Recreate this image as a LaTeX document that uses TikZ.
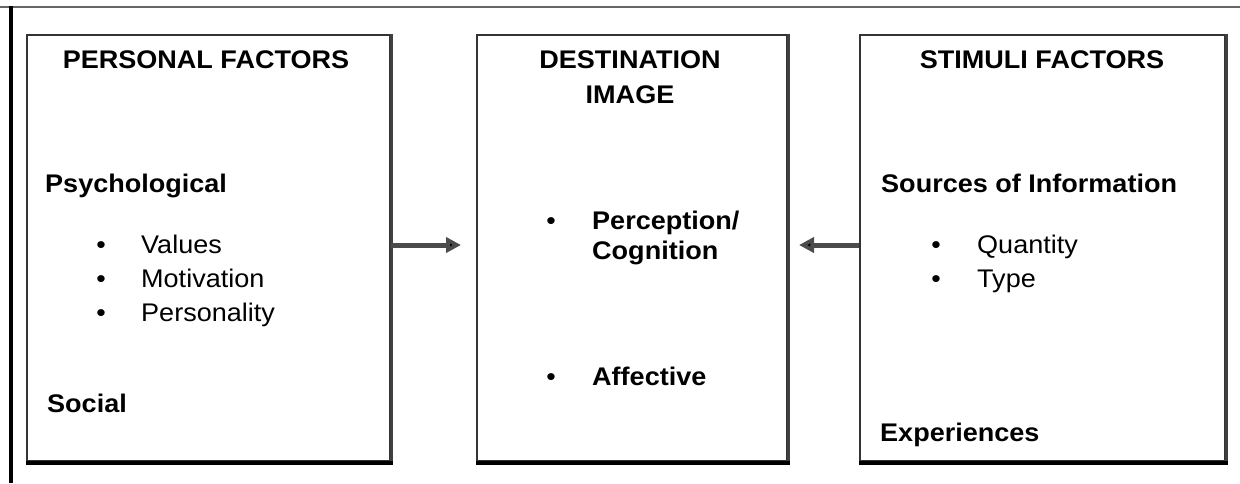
\documentclass[tikz,border=0pt]{standalone}
\usepackage{fontspec}
\setmainfont{Liberation Sans}[FakeStretch=1.06]
\usetikzlibrary{arrows.meta}
\begin{document}
\begin{tikzpicture}[x=1pt,y=-1pt,
  box/.style={draw=black!80, line width=1.6pt, minimum width=#1, minimum height=426pt, inner sep=0pt, anchor=north west},
  head/.style={font=\fontsize{25.5}{30}\selectfont\bfseries, anchor=base, align=center, inner sep=0pt},
  lbl/.style={font=\fontsize{25.5}{30}\selectfont\bfseries, anchor=base west, inner sep=0pt},
  item/.style={font=\fontsize{25.5}{30}\selectfont, anchor=base west, inner sep=0pt},
  bul/.style={font=\fontsize{25.5}{30}\selectfont, anchor=base, inner sep=0pt},
  conn/.style={draw=black!70, line width=5pt, -{Triangle[length=15pt,width=15pt,fill=black]}, shorten >=0pt}
]
\useasboundingbox (0,0) rectangle (1240,483);
% outer frame
\draw[black!60, line width=2.5pt] (0,7) -- (1240,7);
\draw[black, line width=4pt] (11,6) -- (11,483);
% boxes
\node[box=363pt] (b1) at (26,34) {};
\node[box=310pt] (b2) at (476,34) {};
\node[box=365pt] (b3) at (859,34) {};
\foreach \b in {b1,b2,b3}{
  \draw[black!75, line width=3pt] ([xshift=1pt]\b.north east) -- ([xshift=1pt]\b.south east);
  \draw[black, line width=4.5pt] ([yshift=-1.5pt]\b.south west) -- ([xshift=2pt,yshift=-1.5pt]\b.south east);
}
% box 1 text
\node[head] (h1) at (206,68) {PERSONAL FACTORS};
\node[lbl] (psy) at (45,192) {Psychological};
\node[bul] (p1b) at (101,253) {\textbullet};
\node[item] (p1) at (141,253) {Values};
\node[bul] (p2b) at (101,287) {\textbullet};
\node[item] (p2) at (141,287) {Motivation};
\node[bul] (p3b) at (101,321) {\textbullet};
\node[item] (p3) at (141,321) {Personality};
\node[lbl] (soc) at (47,412) {Social};
% box 2 text
\node[head] (h2a) at (630,68) {DESTINATION};
\node[head] (h2b) at (630,103) {IMAGE};
\node[bul] (d1b) at (551,229) {\textbullet};
\node[lbl] (d1) at (592,229) {Perception/};
\node[lbl] (d1c) at (592,259) {Cognition};
\node[bul] (d2b) at (551,385) {\textbullet};
\node[lbl] (d2) at (592,385) {Affective};
% box 3 text
\node[head] (h3) at (1042,68) {STIMULI FACTORS};
\node[lbl] (src) at (881,192) {Sources of Information};
\node[bul] (s1b) at (936,253) {\textbullet};
\node[item] (s1) at (977,253) {Quantity};
\node[bul] (s2b) at (936,287) {\textbullet};
\node[item] (s2) at (977,287) {Type};
\node[lbl] (exp) at (880,441) {Experiences};
% connectors
\coordinate (a1) at (461,245);
\coordinate (a2) at (799,245);
\draw[conn] (b1.east |- a1) -- (a1);
\draw[conn] (b3.west |- a2) -- (a2);
\end{tikzpicture}
\end{document}
